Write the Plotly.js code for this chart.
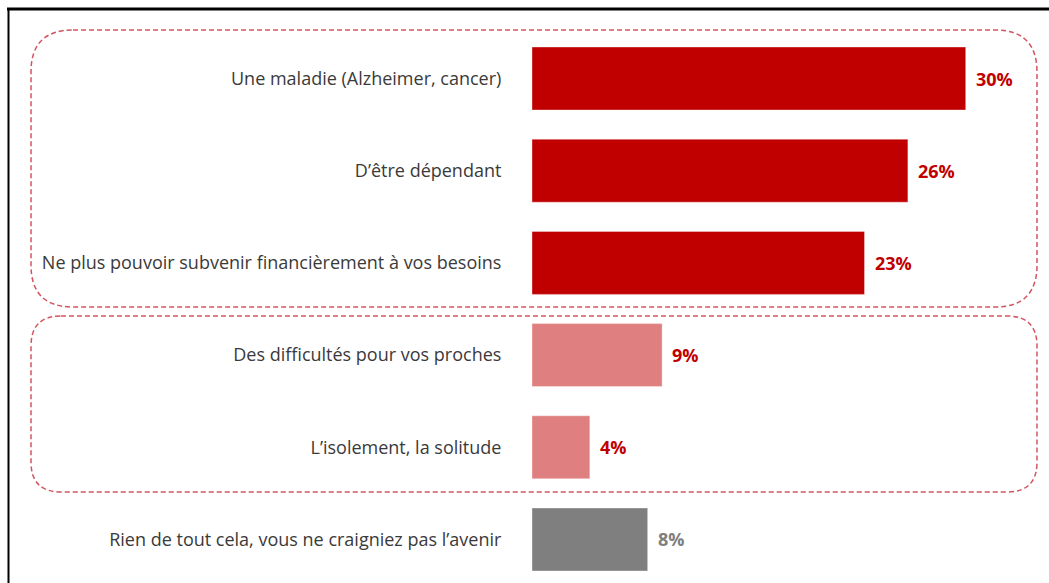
<!DOCTYPE html>
<html>
<head>
<meta charset="utf-8">
<script src="https://cdn.plot.ly/plotly-3.0.1.min.js"></script>
<style>html,body{margin:0;padding:0;background:#fff;}#chart{width:1049px;height:583px;}</style>
</head>
<body>
<div id="chart"></div>
<script>
const categories = [
  "Une maladie (Alzheimer, cancer)",
  "D’être dépendant",
  "Ne plus pouvoir subvenir financièrement à vos besoins",
  "Des difficultés pour vos proches",
  "L’isolement, la solitude",
  "Rien de tout cela, vous ne craigniez pas l’avenir"
];
const values = [30, 26, 23, 9, 4, 8];
const valueLabels = ["30%", "26%", "23%", "9%", "4%", "8%"];
const barColors = ["#C00000", "#C00000", "#C00000", "#E07F7F", "#E07F7F", "#7F7F7F"];
const labelColors = ["#C00000", "#C00000", "#C00000", "#C00000", "#C00000", "#7F7F7F"];

const W = 1049, H = 583, L = 532, R = 11, T = 10, B = 0;
const pw = W - L - R, ph = H - T - B;
const px = x => (x - L) / pw;
const py = y => 1 - (y - T) / ph;

function roundRect(x0, y0, x1, y1, r) {
  const pts = [
    ["M", x0 + r, y0], ["L", x1 - r, y0], ["Q", x1, y0, x1, y0 + r],
    ["L", x1, y1 - r], ["Q", x1, y1, x1 - r, y1], ["L", x0 + r, y1],
    ["Q", x0, y1, x0, y1 - r], ["L", x0, y0 + r], ["Q", x0, y0, x0 + r, y0]
  ];
  return pts.map(p => {
    const c = p[0]; const n = p.slice(1); let s = c;
    for (let i = 0; i < n.length; i += 2) s += (i ? " " : "") + px(n[i]).toFixed(5) + "," + py(n[i + 1]).toFixed(5);
    return s;
  }).join(" ") + " Z";
}

const dashLine = {color: "rgba(200,40,55,0.8)", width: 1.5, dash: "5px,3px"};
const shapes = [
  {type: "path", xref: "paper", yref: "paper", path: roundRect(31, 30, 1037, 307, 42), line: dashLine, layer: "below"},
  {type: "path", xref: "paper", yref: "paper", path: roundRect(31, 316, 1037, 492, 30), line: dashLine, layer: "below"},
  {type: "line", xref: "paper", yref: "paper", x0: px(7), x1: px(1052), y0: py(9), y1: py(9), line: {color: "#000", width: 3}},
  {type: "line", xref: "paper", yref: "paper", x0: px(8.5), x1: px(8.5), y0: py(8), y1: py(590), line: {color: "#000", width: 2}}
];

const annotations = categories.map((c, i) => ({
  x: values[i], y: c, xref: "x", yref: "y", text: valueLabels[i], showarrow: false,
  xanchor: "left", yanchor: "middle", xshift: 8,
  font: {family: "Open Sans, sans-serif", size: 18, color: labelColors[i], weight: "bold"}
}));

const trace = {
  type: "bar", orientation: "h", x: values, y: categories,
  marker: {color: barColors, line: {color: "rgba(255,255,255,0.35)", width: 1}},
  hoverinfo: "none"
};

const layout = {
  width: W, height: H,
  margin: {l: L, r: R, t: T, b: B, pad: 0},
  paper_bgcolor: "#fff", plot_bgcolor: "#fff",
  showlegend: false, bargap: 0.317,
  xaxis: {range: [0, 35], visible: false, fixedrange: true},
  yaxis: {type: "category", range: [5.472, -0.743], showgrid: false, zeroline: false, showline: false,
    ticks: "outside", ticklen: 26, tickcolor: "rgba(0,0,0,0)",
    tickfont: {family: "Open Sans, sans-serif", size: 18, color: "#3a3a3a"}, fixedrange: true},
  shapes: shapes, annotations: annotations
};

Plotly.newPlot("chart", [trace], layout, {displayModeBar: false, staticPlot: true});
</script>
</body>
</html>
